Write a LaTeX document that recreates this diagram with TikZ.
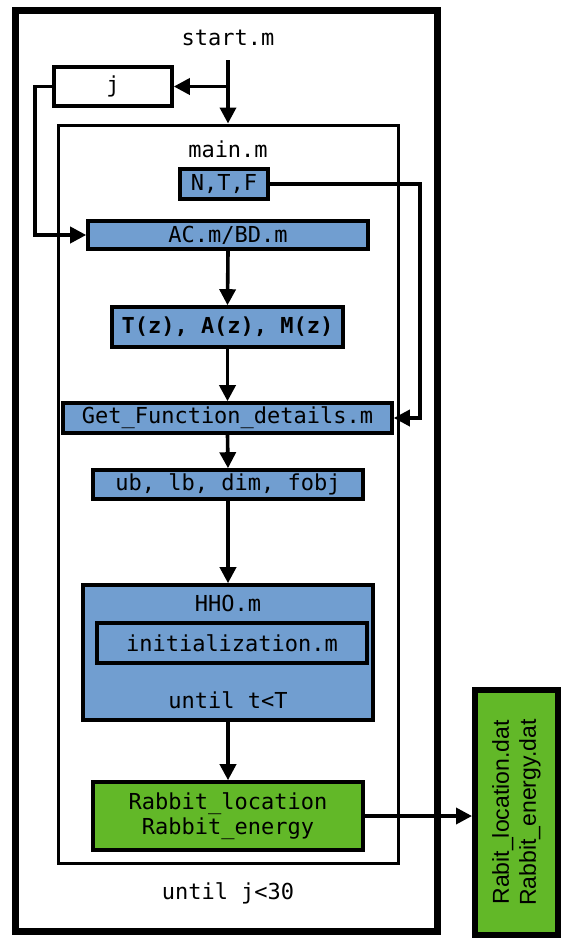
\documentclass[tikz,border=0pt]{standalone}
\usepackage{fontspec}
\setmainfont{DejaVu Sans Mono}
\newfontfamily\datfont{Liberation Sans}
\usetikzlibrary{arrows.meta}
\definecolor{boxblue}{RGB}{113,158,208}
\definecolor{boxgreen}{RGB}{98,184,40}
\tikzset{
  box/.style={draw=black, line width=3.6pt, inner sep=0pt, font=\fontsize{22}{24}\selectfont},
  bluebox/.style={box, fill=boxblue},
  greenbox/.style={box, fill=boxgreen},
  label/.style={inner sep=0pt, font=\fontsize{22}{24}\selectfont},
  flow/.style={line width=3.6pt, -{Triangle[length=16pt,width=16pt]}},
}
\begin{document}
\begin{tikzpicture}[x=1pt,y=-1pt]
\useasboundingbox (0,0) rectangle (564,940);

% frames
\node[draw, line width=7pt, minimum width=422pt, minimum height=921pt, inner sep=0pt] (outer) at (226,470.5) {};
\node[draw, line width=3pt, minimum width=340pt, minimum height=738pt, inner sep=0pt] (main) at (228,494) {};

% labels
\node[label] (start) at (228,38) {start.m};
\node[label] (mainlbl) at (228,149) {main.m};
\node[label] (untilj) at (228,893) {until j<30};

% boxes
\node[box, minimum width=118pt, minimum height=39pt] (j) at (113,86.5) {j};
\node[bluebox, minimum width=88pt, minimum height=30pt] (ntf) at (224,184) {N,T,F};
\node[bluebox, minimum width=280pt, minimum height=28pt] (ac) at (228,235) {AC.m/BD.m};
\node[bluebox, minimum width=231pt, minimum height=40pt, font=\fontsize{22}{24}\selectfont\bfseries] (tz) at (227.5,327) {T(z), A(z), M(z)};
\node[bluebox, minimum width=329pt, minimum height=30pt] (gf) at (227.5,418) {Get\_Function\_details.m};
\node[bluebox, minimum width=270pt, minimum height=29pt] (ub) at (228,484.5) {ub, lb, dim, fobj};
\node[bluebox, minimum width=290pt, minimum height=135pt] (hho) at (228,652.5) {};
\node[label] (hholbl) at (228,603) {HHO.m};
\node[bluebox, minimum width=270pt, minimum height=40pt] (init) at (232,643) {initialization.m};
\node[label] (untilt) at (228,700) {until t<T};
\node[greenbox, minimum width=270pt, minimum height=68pt, align=center, font=\fontsize{22}{25}\selectfont] (rab) at (228,816) {Rabbit\_location\\Rabbit\_energy};
\node[greenbox, line width=6pt, minimum width=83pt, minimum height=245pt] (out) at (516.5,812.5) {};
\node[rotate=90, align=center, inner sep=0pt, font=\datfont\fontsize{23}{27}\selectfont] (outtxt) at (out.center) {Rabit\_location.dat\\Rabbit\_energy.dat};

% connectors
\coordinate (top) at (228,60);
\coordinate (split) at (228,86.5);
\coordinate (lturn) at (35,86.5);
\coordinate (rturn) at (420,184);
\draw[flow] (top) -- (main.north);
\draw[flow] (split) -- (j.east);
\draw[flow] (j.west) -- (lturn) |- (ac.west);
\draw[flow] (ntf.east) -- (rturn) |- (gf.east);
\draw[flow] (ac.south) -- (tz.north);
\draw[flow] (tz.south) -- (gf.north);
\draw[flow] (gf.south) -- (ub.north);
\draw[flow] (ub.south) -- (hho.north);
\draw[flow] (hho.south) -- (rab.north);
\draw[flow] (rab.east) -- (out.west |- rab.east);
\end{tikzpicture}
\end{document}
